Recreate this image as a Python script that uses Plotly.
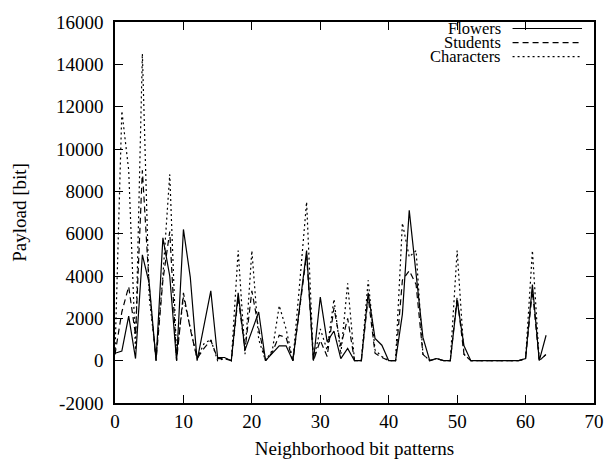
import plotly.graph_objects as go

x_patterns = list(range(64))

flowers = [350, 450, 2100, 100, 5000, 3650, 0, 5800, 4000, 0,
           6200, 3950, 0, 1650, 3300, 150, 150, 0, 3200, 500,
           1400, 2300, 0, 350, 700, 700, 0, 2600, 5200, 0,
           3000, 900, 1400, 100, 580, 0, 0, 3200, 1050, 730,
           0, 0, 2200, 7100, 4000, 1100, 0, 100, 0, 0,
           2850, 700, 0, 0, 0, 0, 0, 0, 0, 0,
           100, 3600, 0, 1200]

students = [300, 2300, 3500, 1200, 9000, 3500, 0, 3800, 6100, 0,
            3200, 1500, 100, 580, 960, 100, 100, 0, 3000, 500,
            3300, 1500, 0, 400, 1200, 1100, 0, 2500, 5000, 0,
            960, 200, 2500, 700, 2000, 0, 0, 3000, 350, 150,
            0, 0, 3800, 4250, 3600, 300, 0, 100, 0, 0,
            3000, 300, 0, 0, 0, 0, 0, 0, 0, 0,
            100, 3300, 0, 300]

characters = [300, 11800, 9000, 500, 14500, 3000, 200, 4000, 8800, 200,
              3000, 1500, 100, 800, 1000, 0, 100, 0, 5200, 300,
              5200, 1000, 0, 500, 2600, 1500, 0, 3700, 7500, 0,
              1500, 500, 2900, 300, 3650, 0, 0, 3800, 500, 200,
              0, 0, 6500, 4900, 5200, 300, 0, 100, 0, 0,
              5200, 300, 0, 0, 0, 0, 0, 0, 0, 0,
              100, 5200, 0, 300]

series_names = ["Flowers", "Students", "Characters"]
series_dash = ["solid", "6px,4px", "2px,3px"]

x_ticks = [0, 10, 20, 30, 40, 50, 60, 70]
y_ticks = [-2000, 0, 2000, 4000, 6000, 8000, 10000, 12000, 14000, 16000]
y_ticktext = ["-2000", "0", "2000", "4000", "6000", "8000", "10000", "12000", "14000", "16000"]

FONT = "Liberation Serif"
FS = 19

fig = go.Figure()
for name, vals, dash in zip(series_names, [flowers, students, characters], series_dash):
    fig.add_trace(go.Scatter(x=x_patterns, y=vals, mode="lines", name=name,
                             line=dict(color="black", width=1.2, dash=dash),
                             showlegend=False))

# gnuplot-style key: right-aligned text followed by line sample
key_rows = [0.983, 0.946, 0.909]
for name, dash, yk in zip(series_names, series_dash, key_rows):
    fig.add_annotation(xref="paper", yref="paper", x=0.81, y=yk, text=name,
                       showarrow=False, xanchor="right", yanchor="middle",
                       font=dict(family=FONT, size=16.5, color="black"))
    fig.add_shape(type="line", xref="paper", yref="paper",
                  x0=0.83, x1=0.975, y0=yk, y1=yk,
                  line=dict(color="black", width=1.2, dash=dash))

axis_common = dict(showgrid=False, zeroline=False, showline=True, linecolor="black",
                   linewidth=1.5, mirror="ticks", ticks="inside", ticklen=8,
                   tickwidth=1.2, tickcolor="black",
                   tickfont=dict(family=FONT, size=FS, color="black"))

fig.update_xaxes(range=[0, 70], tickvals=x_ticks,
                 title=dict(text="Neighborhood bit patterns",
                            font=dict(family=FONT, size=FS, color="black"), standoff=11),
                 **axis_common)
fig.update_yaxes(range=[-2000, 16000], tickvals=y_ticks, ticktext=y_ticktext,
                 ticklabelstandoff=6,
                 title=dict(text="Payload [bit]",
                            font=dict(family=FONT, size=FS, color="black"), standoff=24),
                 **axis_common)

fig.update_layout(width=616, height=468, plot_bgcolor="white", paper_bgcolor="white",
                  margin=dict(l=115, r=13, t=15, b=62), showlegend=False)

fig.write_html("out.html", config={"displayModeBar": False},
               post_script="document.body.style.margin='0';")
